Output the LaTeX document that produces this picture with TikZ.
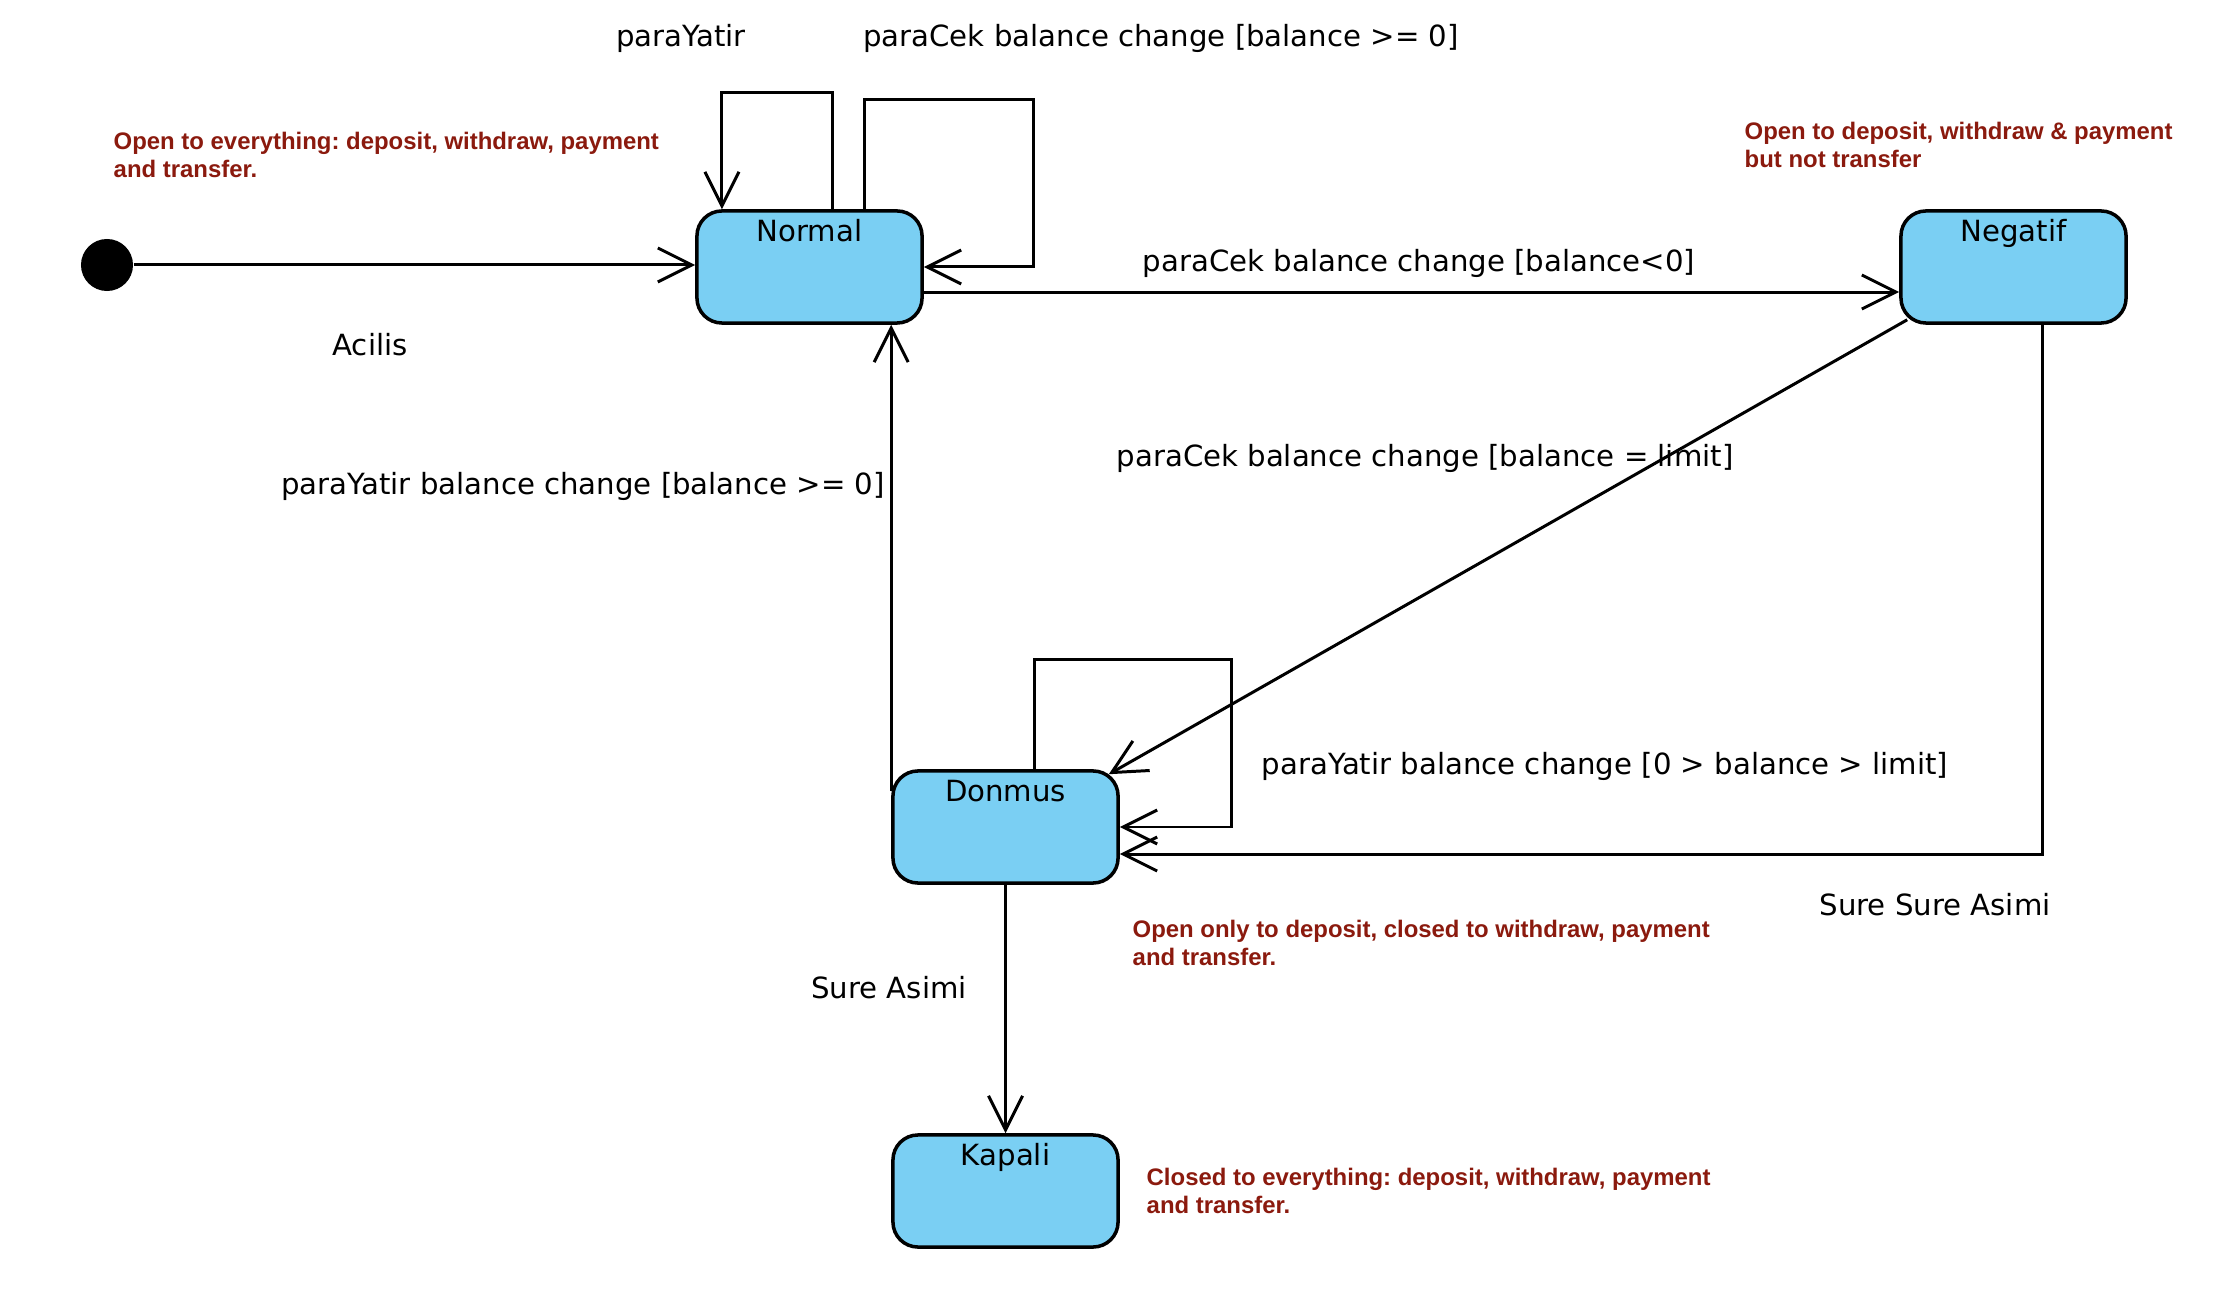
\documentclass[tikz,border=0pt]{standalone}
\usepackage{fontspec}
\setmainfont{DejaVu Sans}
\newfontfamily\notefont{Liberation Sans}
\usetikzlibrary{arrows.meta}
\definecolor{stfill}{RGB}{122,207,243}
\definecolor{notered}{RGB}{139,26,14}
\frenchspacing
\tikzset{
  state/.style={draw=black, line width=1pt, fill=stfill, rounded corners=0.25cm,
    minimum width=2.25cm, minimum height=1.12cm, inner sep=0pt},
  sname/.style={font=\fontsize{8.3}{10}\selectfont, inner sep=0pt, anchor=base},
  lbl/.style={font=\fontsize{8.3}{10}\selectfont, inner sep=0pt},
  note/.style={font=\notefont\bfseries\fontsize{6.8}{8.2}\selectfont, text=notered,
    align=left, anchor=north west, inner sep=0pt},
  arr/.style={line width=0.85pt, -{Straight Barb[length=3.4mm,width=3.4mm,line width=0.85pt]}},
}
\begin{document}
\begin{tikzpicture}[x=0.01cm,y=-0.01cm]
\useasboundingbox[fill=white] (0,0) rectangle (2216,1298);
% states
\node[state] (Normal) at (809.5,267) {};
\node[state] (Negatif) at (2013.5,267) {};
\node[state] (Donmus) at (1005.5,827) {};
\node[state] (Kapali) at (1005.5,1191) {};
\node[sname] (NormalT) at ([yshift=-0.32cm]Normal.north) {Normal};
\node[sname] (NegatifT) at ([yshift=-0.32cm]Negatif.north) {Negatif};
\node[sname] (DonmusT) at ([yshift=-0.32cm]Donmus.north) {Donmus};
\node[sname] (KapaliT) at ([yshift=-0.32cm]Kapali.north) {Kapali};
% initial
\node[circle, fill=black, minimum size=0.52cm, inner sep=0pt] (init) at (107,265) {};
% transitions
\draw[arr] (init) -- (init -| Normal.west);
\draw[arr] ([xshift=0.225cm]Normal.north) -- ++(0,-117) -| ([xshift=-0.875cm]Normal.north);
\draw[arr] ([xshift=0.545cm]Normal.north) -- ++(0,-110) -| ([xshift=1.1cm]Normal.east) -- (Normal.east);
\draw[arr] ([yshift=-0.25cm]Normal.east) -- ([yshift=-0.25cm]Negatif.west);
\draw[arr] ([shift={(0.08cm,0.05cm)}]Negatif.south west) -- ([shift={(-0.11cm,-0.05cm)}]Donmus.north east);
\draw[arr] ([xshift=0.285cm]Negatif.south) |- ([yshift=-0.27cm]Donmus.east);
\draw[arr] ([xshift=0.285cm]Donmus.north) -- ++(0,-110) -| ([xshift=1.12cm]Donmus.east) -- (Donmus.east);
\draw[arr] ([yshift=-0.22cm]Donmus.north west) -- (Donmus.north west |- Normal.south);
\draw[arr] (Donmus.south) -- (Kapali.north);
% labels
\node[lbl] (l1) at (681,38) {paraYatir};
\node[lbl] (l2) at (1161,38) {paraCek balance change [balance >= 0]};
\node[lbl] (l3) at (370,345) {Acilis};
\node[lbl] (l4) at (1419,263) {paraCek balance change [balance<0]};
\node[lbl] (l5) at (1425,458) {paraCek balance change [balance = limit]};
\node[lbl] (l6) at (583,486) {paraYatir balance change [balance >= 0]};
\node[lbl] (l7) at (1605,766) {paraYatir balance change [0 > balance > limit]};
\node[lbl] (l8) at (1935,905) {Sure Sure Asimi};
\node[lbl] (l9) at (889,988) {Sure Asimi};
% notes
\node[note] (n1) at (113,131) {Open to everything: deposit, withdraw, payment\\and transfer.};
\node[note] (n2) at (1744,121) {Open to deposit, withdraw \& payment\\but not transfer};
\node[note] (n3) at (1132,919) {Open only to deposit, closed to withdraw, payment\\and transfer.};
\node[note] (n4) at (1146,1167) {Closed to everything: deposit, withdraw, payment\\and transfer.};
\end{tikzpicture}
\end{document}
